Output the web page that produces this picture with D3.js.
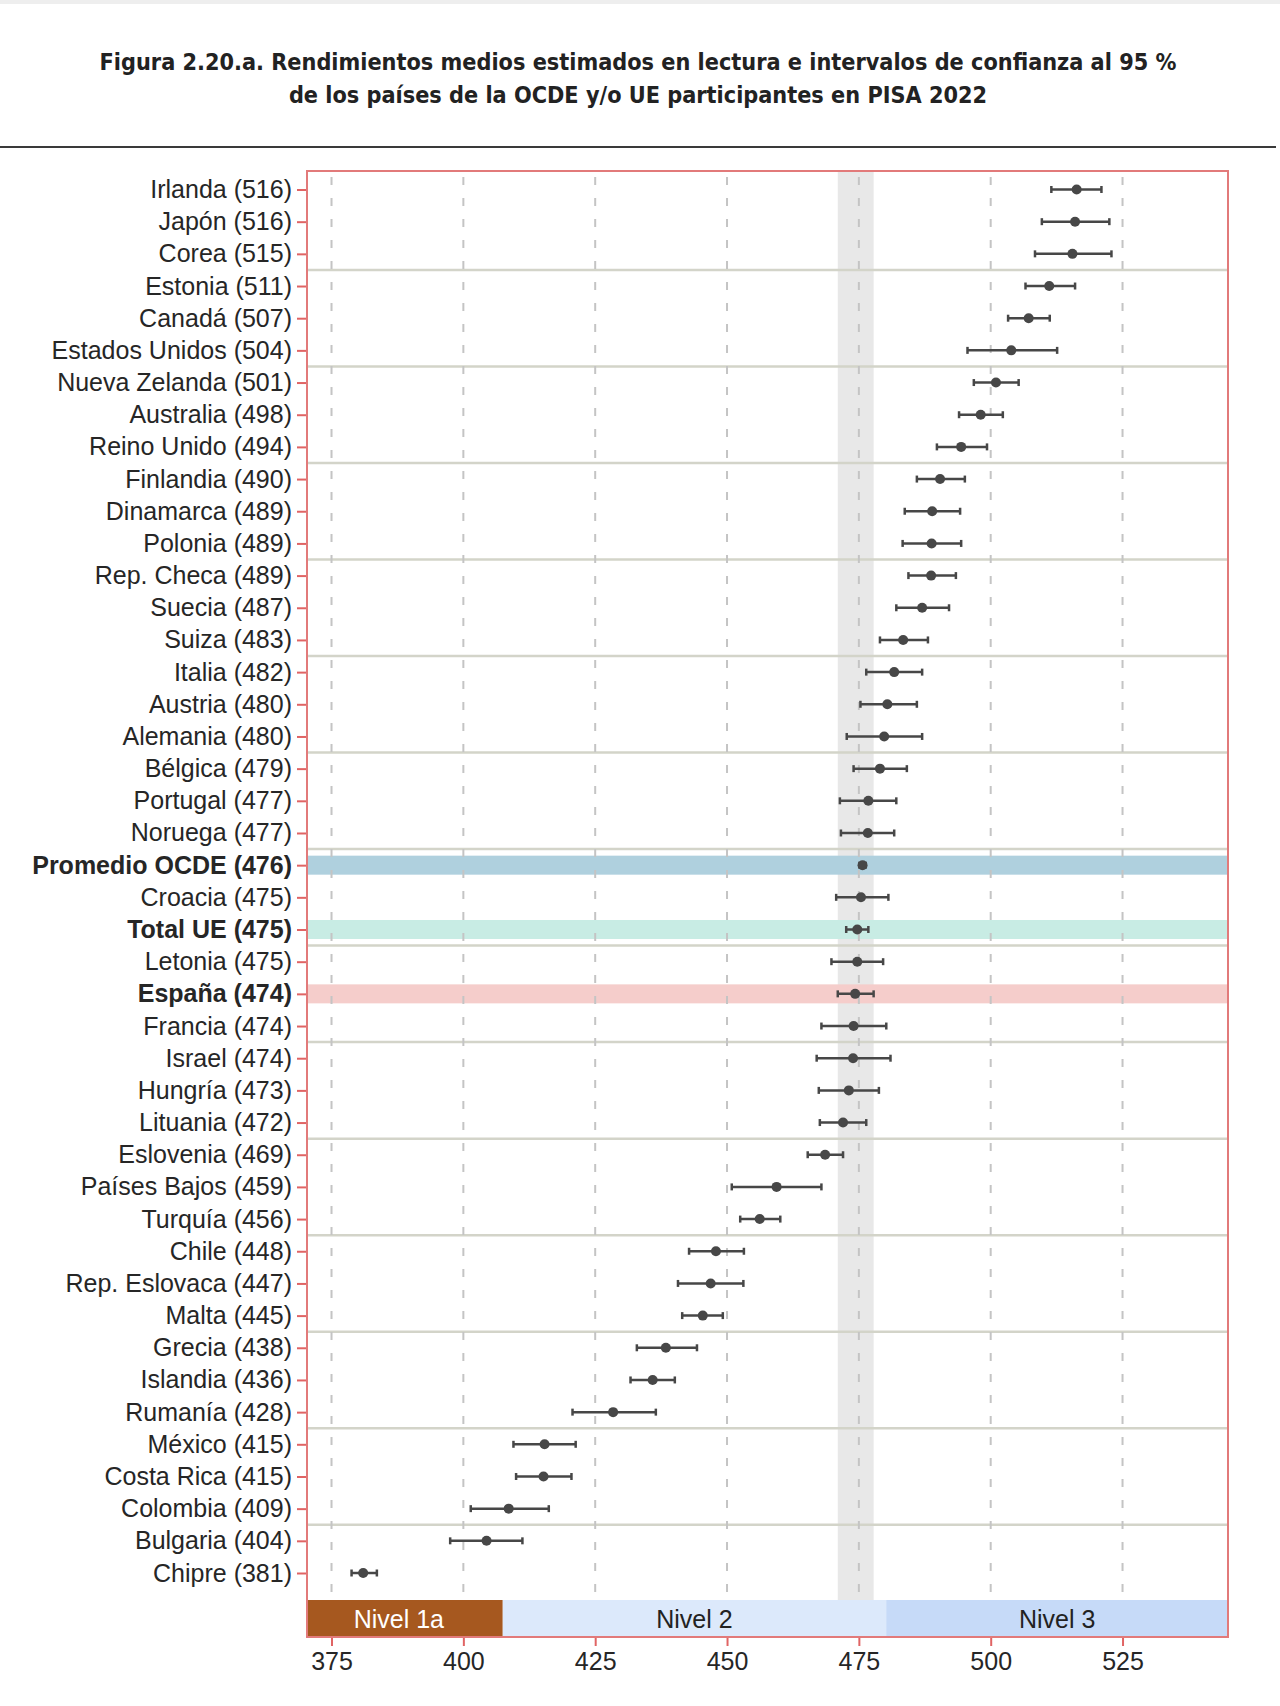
<!DOCTYPE html>
<meta charset="utf-8">
<head>
  <title>PISA 2022 lectura</title>
  <script src="https://d3js.org/d3.v7.min.js"></script>
  <style>
    body { margin: 0; background: #fff; }
    svg { display: block; }
  </style>
</head>
<body>
<div id="chart"></div>
<script>

// data
var countries = ["Irlanda", "Japón", "Corea", "Estonia", "Canadá", "Estados Unidos", "Nueva Zelanda",
  "Australia", "Reino Unido", "Finlandia", "Dinamarca", "Polonia", "Rep. Checa", "Suecia", "Suiza",
  "Italia", "Austria", "Alemania", "Bélgica", "Portugal", "Noruega", "Promedio OCDE", "Croacia",
  "Total UE", "Letonia", "España", "Francia", "Israel", "Hungría", "Lituania", "Eslovenia",
  "Países Bajos", "Turquía", "Chile", "Rep. Eslovaca", "Malta", "Grecia", "Islandia", "Rumanía",
  "México", "Costa Rica", "Colombia", "Bulgaria", "Chipre"];
var scores = [516, 516, 515, 511, 507, 504, 501, 498, 494, 490, 489, 489, 489, 487, 483, 482, 480,
  480, 479, 477, 477, 476, 475, 475, 475, 474, 474, 474, 473, 472, 469, 459, 456, 448, 447, 445,
  438, 436, 428, 415, 415, 409, 404, 381];
var means = [516.3, 516.0, 515.5, 511.1, 507.2, 503.9, 501.0, 498.1, 494.4, 490.4, 488.9, 488.8,
  488.7, 487.0, 483.4, 481.7, 480.4, 479.8, 479.0, 476.8, 476.7, 475.7, 475.4, 474.7, 474.7, 474.3,
  474.0, 473.9, 473.1, 472.0, 468.6, 459.4, 456.2, 447.9, 446.9, 445.4, 438.4, 435.9, 428.4, 415.4,
  415.2, 408.6, 404.4, 381.0];
var lower = [511.5, 509.7, 508.4, 506.6, 503.3, 495.6, 496.8, 494.0, 489.8, 486.0, 483.7, 483.3,
  484.4, 482.1, 479.0, 476.4, 475.3, 472.7, 474.0, 471.4, 471.6, 475.1, 470.7, 472.6, 469.8, 471.0,
  467.9, 467.0, 467.4, 467.6, 465.3, 450.9, 452.5, 442.8, 440.7, 441.5, 432.9, 431.7, 420.7, 409.5,
  410.0, 401.4, 397.5, 378.8];
var upper = [521.0, 522.5, 522.9, 516.0, 511.2, 512.6, 505.3, 502.3, 499.3, 495.1, 494.2, 494.4,
  493.4, 492.1, 488.1, 487.0, 486.0, 487.0, 484.1, 482.1, 481.7, 476.3, 480.6, 476.8, 479.6, 477.8,
  480.2, 481.0, 478.8, 476.4, 472.0, 467.9, 460.1, 453.2, 453.1, 449.2, 444.3, 440.1, 436.5, 421.3,
  420.5, 416.2, 411.2, 383.6];

var highlightRows = ["Promedio OCDE", "Total UE", "España"];
var highlightColors = ["#afd0de", "#c8ece4", "#f5cdcb"];
var referenceRow = "España";

var levelNames = ["Nivel 1a", "Nivel 2", "Nivel 3"];
var levelLow = [334.75, 407.47, 480.18];
var levelHigh = [407.47, 480.18, 552.89];
var levelColors = ["#a6581f", "#dce9fb", "#c6daf8"];
var levelText = ["#ffffff", "#222222", "#222222"];

var xTicks = [375, 400, 425, 450, 475, 500, 525];
var titleLines = ["Figura 2.20.a. Rendimientos medios estimados en lectura e intervalos de confianza al 95 %",
  "de los países de la OCDE y/o UE participantes en PISA 2022"];

var W = 1280, H = 1706;
var plot = {left: 307, right: 1228, top: 171, bottom: 1637};
var bandTop = 1600;
var labelFont = "'Liberation Sans', Arial, sans-serif";

var svg = d3.select("#chart").append("svg")
  .attr("width", W)
  .attr("height", H);

// title
svg.append("rect").attr("x", 0).attr("y", 0).attr("width", W).attr("height", 4).attr("fill", "#eeeeee");

var title = svg.append("g")
  .attr("font-family", "'Liberation Sans Narrow', 'DejaVu Sans Condensed', sans-serif")
  .attr("font-weight", "bold")
  .attr("fill", "#222")
  .attr("text-anchor", "middle");

var tl = title.selectAll("text")
  .data(titleLines)
  .enter().append("text")
    .attr("x", 638)
    .attr("y", function(d, i) { return 70 + i * 33; })
    .attr("font-size", 24)
    .text(function(d) { return d; });

var w0 = tl.node().getComputedTextLength();
tl.attr("font-size", 24 * 1077 / w0);

svg.append("line")
  .attr("x1", 0).attr("x2", 1276)
  .attr("y1", 147).attr("y2", 147)
  .attr("stroke", "#3a3a3a")
  .attr("stroke-width", 2);

// scales
var x = d3.scaleLinear()
  .domain([370.35, 545.0])
  .range([plot.left, plot.right]);

var y = d3.scalePoint()
  .domain(countries)
  .range([189.5, 1573]);

var step = y.step();

svg.append("rect")
  .attr("x", plot.left).attr("y", plot.top)
  .attr("width", plot.right - plot.left).attr("height", plot.bottom - plot.top)
  .attr("fill", "#fff");

// gray band = CI of Spain
var ref = countries.indexOf(referenceRow);
svg.append("rect")
  .attr("x", x(lower[ref]))
  .attr("y", plot.top)
  .attr("width", x(upper[ref]) - x(lower[ref]))
  .attr("height", bandTop - plot.top)
  .attr("fill", "#e8e8e8");

// highlighted rows
svg.selectAll(".hl")
  .data(highlightRows)
  .enter().append("rect")
    .attr("class", "hl")
    .attr("x", plot.left)
    .attr("width", plot.right - plot.left)
    .attr("y", function(d) { return y(d) - 9.5; })
    .attr("height", 19)
    .attr("fill", function(d, i) { return highlightColors[i]; });

// separators every 3 rows
var seps = countries.filter(function(d, i) { return i % 3 === 2 && i < countries.length - 2; });
svg.selectAll(".sep")
  .data(seps)
  .enter().append("line")
    .attr("class", "sep")
    .attr("x1", plot.left).attr("x2", plot.right)
    .attr("y1", function(d) { return y(d) + step / 2; })
    .attr("y2", function(d) { return y(d) + step / 2; })
    .attr("stroke", "#d3d4c9")
    .attr("stroke-width", 2.5);

// dashed grid
svg.selectAll(".grid")
  .data(xTicks)
  .enter().append("line")
    .attr("class", "grid")
    .attr("x1", function(d) { return x(d); })
    .attr("x2", function(d) { return x(d); })
    .attr("y1", plot.top + 6).attr("y2", bandTop)
    .attr("stroke", "#c4c4c4")
    .attr("stroke-width", 2)
    .attr("stroke-dasharray", "8,13");

// error bars
var rows = countries.map(function(c, i) {
  return {name: c, score: scores[i], mean: means[i], lo: lower[i], hi: upper[i]};
});

var bars = svg.append("g").attr("stroke", "#474747").attr("stroke-width", 2.5);
bars.selectAll(".ci")
  .data(rows)
  .enter().append("line")
    .attr("x1", function(d) { return x(d.lo); })
    .attr("x2", function(d) { return x(d.hi); })
    .attr("y1", function(d) { return y(d.name); })
    .attr("y2", function(d) { return y(d.name); });
bars.selectAll(".capL")
  .data(rows)
  .enter().append("line")
    .attr("x1", function(d) { return x(d.lo); })
    .attr("x2", function(d) { return x(d.lo); })
    .attr("y1", function(d) { return y(d.name) - 3.5; })
    .attr("y2", function(d) { return y(d.name) + 3.5; });
bars.selectAll(".capR")
  .data(rows)
  .enter().append("line")
    .attr("x1", function(d) { return x(d.hi); })
    .attr("x2", function(d) { return x(d.hi); })
    .attr("y1", function(d) { return y(d.name) - 3.5; })
    .attr("y2", function(d) { return y(d.name) + 3.5; });

svg.selectAll(".dot")
  .data(rows)
  .enter().append("circle")
    .attr("cx", function(d) { return x(d.mean); })
    .attr("cy", function(d) { return y(d.name); })
    .attr("r", 5)
    .attr("fill", "#474747");

// performance levels band
var levels = levelNames.map(function(n, i) {
  var lo = Math.max(levelLow[i], x.domain()[0]);
  var hi = Math.min(levelHigh[i], x.domain()[1]);
  return {name: n, lo: lo, hi: hi, color: levelColors[i], text: levelText[i]};
});

svg.selectAll(".lvl")
  .data(levels)
  .enter().append("rect")
    .attr("x", function(d) { return x(d.lo); })
    .attr("width", function(d) { return x(d.hi) - x(d.lo); })
    .attr("y", bandTop)
    .attr("height", plot.bottom - bandTop)
    .attr("fill", function(d) { return d.color; });

svg.selectAll(".lvlText")
  .data(levels)
  .enter().append("text")
    .attr("x", function(d, i) { return (x(d.lo) + x(d.hi)) / 2 - (i === 0 ? 6 : 0); })
    .attr("y", (bandTop + plot.bottom) / 2 + 9)
    .attr("text-anchor", "middle")
    .attr("font-family", labelFont)
    .attr("font-size", 25)
    .attr("fill", function(d) { return d.text; })
    .text(function(d) { return d.name; });

// plot border
svg.append("rect")
  .attr("x", plot.left).attr("y", plot.top)
  .attr("width", plot.right - plot.left).attr("height", plot.bottom - plot.top)
  .attr("fill", "none")
  .attr("stroke", "#e27a7a")
  .attr("stroke-width", 2);

// y axis
var yAxis = svg.append("g")
  .attr("transform", "translate(" + (plot.left - 1) + ",0)")
  .call(d3.axisLeft(y).tickSize(9).tickPadding(5)
    .tickFormat(function(d, i) { return d + " (" + scores[i] + ")"; }));
yAxis.select(".domain").remove();
yAxis.selectAll(".tick line").attr("stroke", "#e06464").attr("stroke-width", 2);
yAxis.selectAll(".tick text")
  .attr("font-family", labelFont)
  .attr("font-size", 25)
  .attr("fill", "#262626")
  .attr("font-weight", function(d) { return highlightRows.indexOf(d) >= 0 ? "bold" : "normal"; });

// x axis
var xAxis = svg.append("g")
  .attr("transform", "translate(0," + (plot.bottom + 1) + ")")
  .call(d3.axisBottom(x).tickValues(xTicks).tickSize(8).tickPadding(6));
xAxis.select(".domain").remove();
xAxis.selectAll(".tick line").attr("stroke", "#e06464").attr("stroke-width", 2);
xAxis.selectAll(".tick text")
  .attr("font-family", labelFont)
  .attr("font-size", 25)
  .attr("fill", "#262626");

</script>
</body>
